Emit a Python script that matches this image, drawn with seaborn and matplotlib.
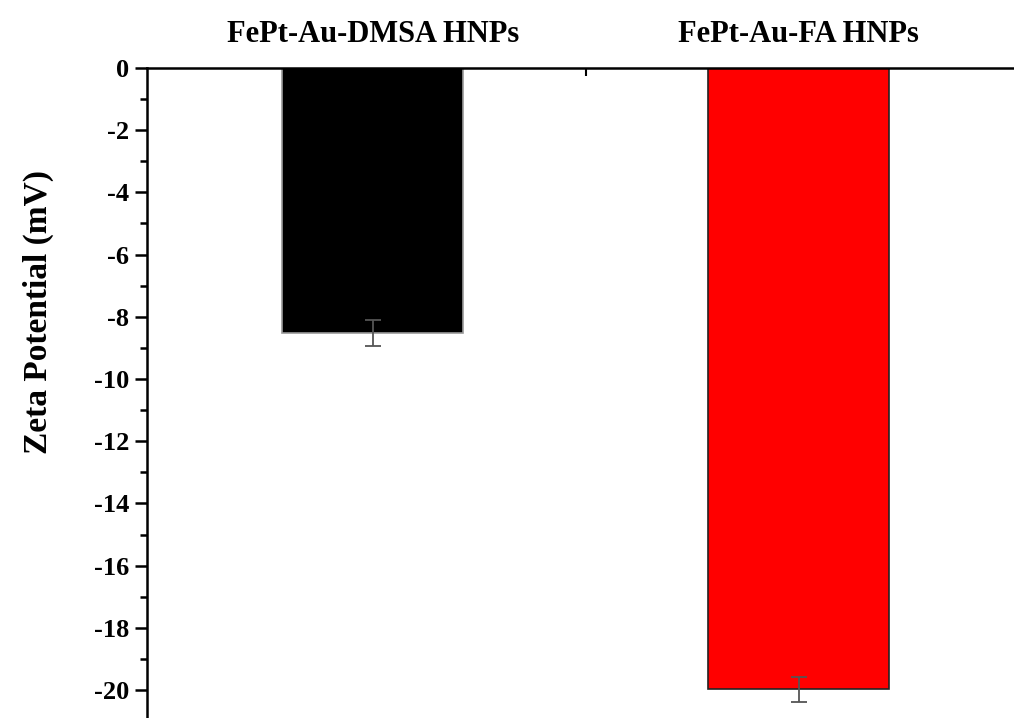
import pandas as pd
import matplotlib
matplotlib.use('Agg')
import matplotlib.pyplot as plt
import seaborn as sns
from matplotlib.ticker import MultipleLocator

samples = ['FePt-Au-DMSA HNPs', 'FePt-Au-FA HNPs']
zeta = [-8.52, -19.97]
zeta_err = [0.42, 0.40]
bar_colors = ['#000000', '#ff0000']

df = pd.DataFrame({'sample': samples, 'zeta': zeta})

sns.set_style('ticks')
plt.rcParams['font.family'] = ['Liberation Serif', 'DejaVu Serif']
plt.rcParams['font.weight'] = 'bold'
plt.rcParams['axes.unicode_minus'] = False
plt.rcParams['text.color'] = 'black'
plt.rcParams['axes.labelcolor'] = 'black'
plt.rcParams['xtick.color'] = 'black'
plt.rcParams['ytick.color'] = 'black'
plt.rcParams['axes.edgecolor'] = 'black'

fig = plt.figure(figsize=(10.14, 7.18), dpi=100)
ax = fig.add_axes([0.145, 0.0, 0.855, 0.9053])

sns.barplot(data=df, x='sample', y='zeta', hue='sample', palette=bar_colors,
            saturation=1, width=0.425, errorbar=None, legend=False, ax=ax, zorder=2)
for patch, ec in zip(ax.patches, ['#9a9a9a', '#222222']):
    patch.set_edgecolor(ec)
    patch.set_linewidth(1.2)

ax.errorbar(range(len(samples)), zeta, yerr=zeta_err, fmt='none',
            ecolor='#555555', elinewidth=1.3, capsize=6, capthick=1.3, zorder=3)

ax.set_xlim(-0.53, 1.505)
ax.set_ylim(-20.9, 0)

ax.yaxis.set_major_locator(MultipleLocator(2))
ax.yaxis.set_minor_locator(MultipleLocator(1))
ax.tick_params(axis='y', which='major', direction='out', length=9, width=1.8,
               labelsize=19, pad=4)
ax.tick_params(axis='y', which='minor', direction='out', length=5, width=1.8)
for lab in ax.get_yticklabels():
    lab.set_fontweight('bold')

ax.xaxis.tick_top()
ax.set_xticks([0.5], minor=True)
ax.tick_params(axis='x', which='major', length=0, labelsize=22, pad=14)
ax.tick_params(axis='x', which='minor', top=True, bottom=False, direction='in',
               length=6, width=1.5)
for lab in ax.get_xticklabels():
    lab.set_fontweight('bold')

ax.set_xlabel('')
ax.set_ylabel('Zeta Potential (mV)', fontsize=24, fontweight='bold')
ax.yaxis.set_label_coords(-0.107, 0.625)

ax.spines['right'].set_visible(False)
ax.spines['bottom'].set_visible(False)
ax.spines['top'].set_linewidth(1.8)
ax.spines['left'].set_linewidth(1.8)

fig.savefig('out.png', dpi=100)
